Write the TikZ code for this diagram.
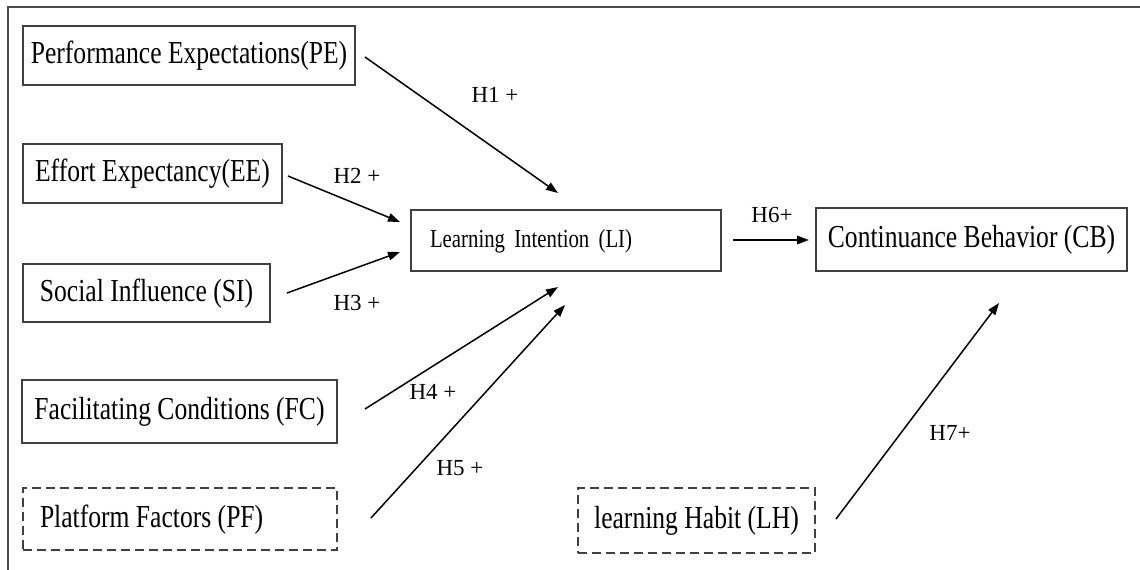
\documentclass[tikz,border=0pt]{standalone}
\usepackage{fontspec}
\setmainfont{Liberation Serif}[FakeStretch=0.8]
\newfontfamily\lblfont{Liberation Serif}
\usetikzlibrary{arrows.meta}
\definecolor{boxgray}{HTML}{404040}
\definecolor{framegray}{HTML}{4A4A4A}
\begin{document}
\begin{tikzpicture}[x=1pt,y=-1pt,
  box/.style={draw=boxgray, line width=1.6pt, rectangle, inner sep=0pt,
    font=\fontsize{32}{36}\selectfont, text=black, text height=22pt, text depth=6pt},
  dbox/.style={box, dash pattern=on 9pt off 5pt},
  arr/.style={line width=1.5pt, -{Triangle[length=12pt,width=8.5pt]}},
  lbl/.style={font=\lblfont\fontsize{23}{26}\selectfont, inner sep=0pt, text=black}]
\useasboundingbox (0,0) rectangle (1140,570);
% frame
\draw[line width=2.5pt, draw=framegray] (8,570) -- (8,7) -- (1140,7);
% nodes
\node[box, minimum width=332pt, minimum height=59pt] (PE) at (189,55.5) {Performance Expectations(PE)};
\node[box, minimum width=259pt, minimum height=59pt] (EE) at (152.5,173.5) {Effort Expectancy(EE)};
\node[box, minimum width=247pt, minimum height=58pt] (SI) at (146.5,293) {Social Influence (SI)};
\node[box, minimum width=315pt, minimum height=63pt] (FC) at (179.5,411.5) {Facilitating Conditions (FC)};
\node[dbox, minimum width=314pt, minimum height=62pt] (PF) at (180,519) {\makebox[280pt][l]{Platform Factors (PF)}};
\node[box, minimum width=310pt, minimum height=61pt,
  font=\fontsize{26}{30}\selectfont, text height=18pt, text depth=5pt] (LI) at (566,240.5) {\makebox[272pt][l]{Learning\hspace{4pt} Intention\hspace{4pt} (LI)}};
\node[box, minimum width=311pt, minimum height=63pt] (CB) at (971.5,239.5) {Continuance Behavior (CB)};
\node[dbox, minimum width=237pt, minimum height=65pt] (LH) at (696.5,520.5) {learning Habit (LH)};
% arrow end points
\coordinate (peO) at (365,57);   \coordinate (liA) at (558,193);
\coordinate (eeO) at (288,176);  \coordinate (liB) at (400,222);
\coordinate (siO) at (287,293);  \coordinate (liC) at (400,252);
\coordinate (fcO) at (365,409);  \coordinate (liD) at (558,287);
\coordinate (pfO) at (371,518);  \coordinate (liE) at (565,305);
\coordinate (liO) at (733,240);  \coordinate (cbA) at (809,240);
\coordinate (lhO) at (836,519);  \coordinate (cbB) at (999,303);
% arrows
\draw[arr] (peO) -- (liA);
\draw[arr] (eeO) -- (liB);
\draw[arr] (siO) -- (liC);
\draw[arr] (fcO) -- (liD);
\draw[arr] (pfO) -- (liE);
\draw[arr] (liO) -- (cbA);
\draw[arr] (lhO) -- (cbB);
% labels
\node[lbl] (h1) at (495,95) {H1 +};
\node[lbl] (h2) at (357,176) {H2 +};
\node[lbl] (h3) at (357,303) {H3 +};
\node[lbl] (h4) at (433,392) {H4 +};
\node[lbl] (h5) at (460,468) {H5 +};
\node[lbl] (h6) at (772,215) {H6+};
\node[lbl] (h7) at (950,433) {H7+};
\end{tikzpicture}
\end{document}
